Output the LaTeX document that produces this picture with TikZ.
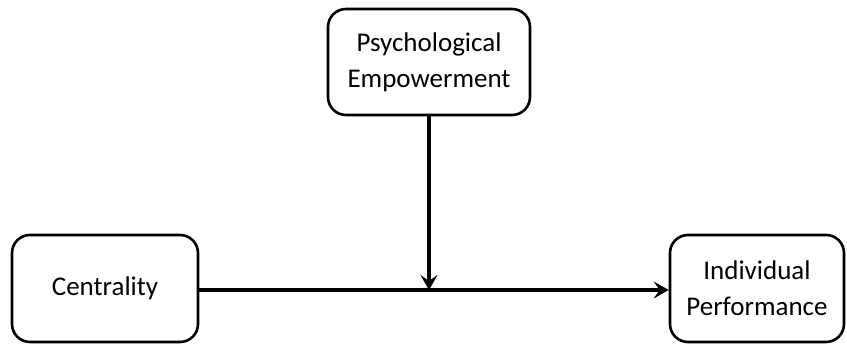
\documentclass[tikz,border=0pt]{standalone}
\usepackage{fontspec}
\setmainfont{Carlito}
\usetikzlibrary{arrows.meta}
\begin{document}
\begin{tikzpicture}[x=1pt,y=-1pt,
  boxnode/.style={draw, line width=2.6pt, rounded corners=18pt, align=center, inner sep=0pt,
    font=\fontsize{27}{36}\selectfont},
  conn/.style={line width=3.6pt, -{Stealth[length=15pt,width=17pt,inset=6pt]}}]
\useasboundingbox (0,0) rectangle (847,344);
\node[boxnode, minimum width=202pt, minimum height=106pt] (pe) at (429,62) {Psychological\\Empowerment};
\node[boxnode, minimum width=186pt, minimum height=107pt] (ce) at (105,288.5) {Centrality};
\node[boxnode, minimum width=174pt, minimum height=107pt] (ip) at (757,288.5) {Individual\\Performance};
\coordinate (mid) at (429,290);
\draw[conn] (ce.east |- mid) -- (ip.west |- mid);
\draw[conn] (pe.south) -- (mid);
\end{tikzpicture}
\end{document}
